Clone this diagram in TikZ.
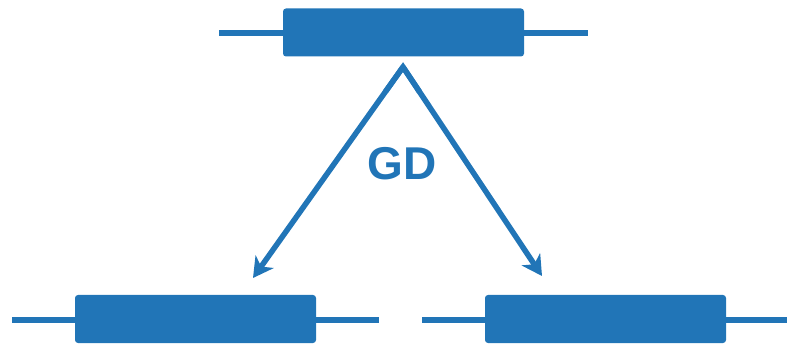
\documentclass[tikz,border=0pt]{standalone}
\usepackage{fontspec}
\setmainfont{Liberation Sans}
\usetikzlibrary{arrows.meta,calc}
\definecolor{mblue}{RGB}{33,117,183}
\begin{document}
\begin{tikzpicture}[x=1pt,y=-1pt,
  lead/.style={draw=mblue,line width=6pt},
  body/.style={fill=mblue,draw=none,rounded corners=3pt,minimum width=241pt,minimum height=48pt,inner sep=0pt},
  gdarrow/.style={draw=mblue,line width=5.5pt,-{Stealth[length=20pt,width=22pt,inset=6pt]}},
  lbl/.style={text=mblue,font=\fontsize{46}{46}\selectfont\bfseries,inner sep=0pt}]
\useasboundingbox (0,0) rectangle (787,347);
% top component
\coordinate (tl) at (219,33);
\coordinate (tr) at (588,33);
\draw[lead] (tl) -- (tr);
\node[body] (top) at (403.5,32.5) {};
% bottom left component
\coordinate (ll) at (12,320);
\coordinate (lr) at (379,320);
\draw[lead] (ll) -- (lr);
\node[body] (bl) at (195.5,319) {};
% bottom right component
\coordinate (rl) at (422,320);
\coordinate (rr) at (790,320);
\draw[lead] (rl) -- (rr);
\node[body] (br) at (605.5,319) {};
% arrows
\coordinate (apex) at (403,67);
\coordinate (tipL) at (253,278);
\coordinate (tipR) at (542,276);
\draw[gdarrow] (apex) -- (tipL);
\draw[gdarrow] (apex) -- (tipR);
\draw[mblue,line width=5.5pt,line join=miter] ($(apex)!30pt!(tipL)$) -- (apex) -- ($(apex)!30pt!(tipR)$);
\node[lbl] (gd) at (402,164) {GD};
\end{tikzpicture}
\end{document}
